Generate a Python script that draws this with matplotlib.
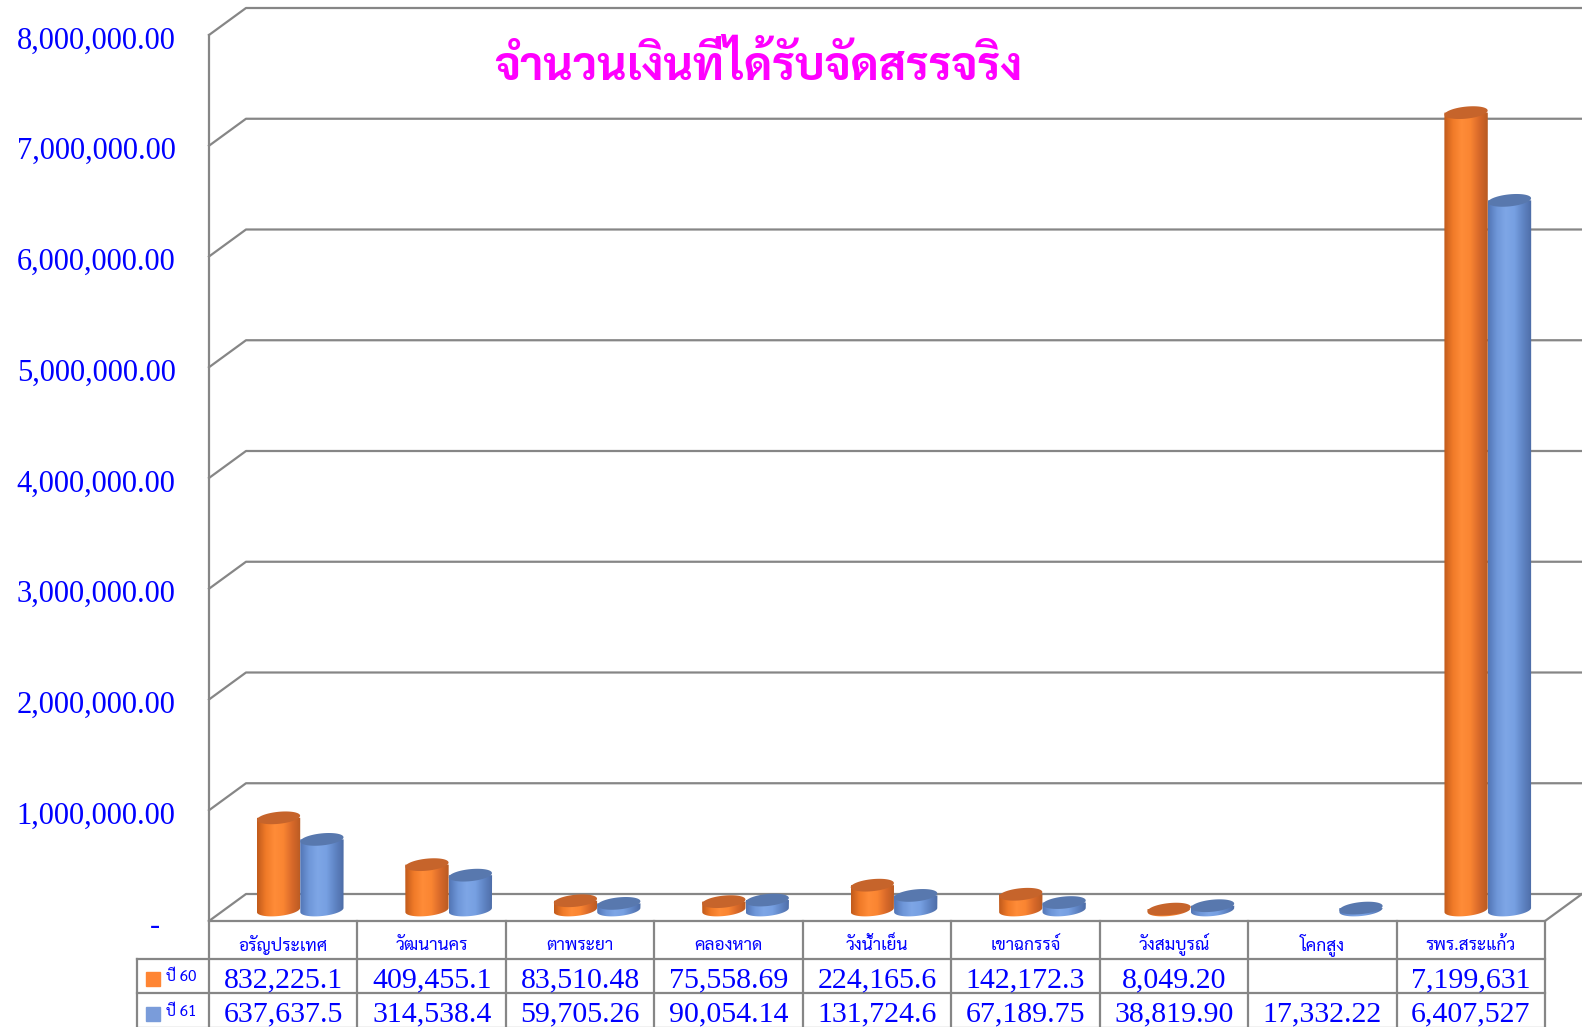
import numpy as np
import matplotlib
matplotlib.use("Agg")
import matplotlib.pyplot as plt
from matplotlib.patches import Polygon
from matplotlib.colors import LinearSegmentedColormap
from matplotlib.transforms import blended_transform_factory, ScaledTranslation

# ---- data ----
title = "จำนวนเงินที่ได้รับจัดสรรจริง"
categories = ["อรัญประเทศ", "วัฒนานคร", "ตาพระยา", "คลองหาด", "วังน้ำเย็น",
              "เขาฉกรรจ์", "วังสมบูรณ์", "โคกสูง", "รพร.สระแก้ว"]
series_names = ["ปี 60", "ปี 61"]
y60 = [832225.1, 409455.1, 83510.48, 75558.69, 224165.6, 142172.3, 8049.20, np.nan, 7199631]
y61 = [637637.5, 314538.4, 59705.26, 90054.14, 131724.6, 67189.75, 38819.90, 17332.22, 6407527]
yticks = [0, 1000000, 2000000, 3000000, 4000000, 5000000, 6000000, 7000000, 8000000]

thai = ["Sarabun", "DejaVu Sans"]

# ---- layout (pixels) ----
W, H = 1582, 1027
L, R, T, B = 209, 1545, 35, 921      # front plane of the plot
DEPTH = (37, 27)                      # back wall offset
BAR_OFF = (17, 11)                    # bars sit part way into the depth
BAR_HW = 21.7                         # half width of one cylinder
ELL_B = 6                             # ellipse half height
grey = "#868686"
blue_txt = "#0000FF"

fig = plt.figure(figsize=(W / 100, H / 100), dpi=100)
ax = fig.add_axes([L / W, 1 - B / H, (R - L) / W, (B - T) / H])
ax.set_xlim(0, len(categories))
ax.set_ylim(0, 8000000)
for s in ax.spines.values():
    s.set_visible(False)
ax.set_xticks([])

px_x = len(categories) / (R - L)
px_y = 8000000 / (B - T)
dx, dy = DEPTH[0] * px_x, DEPTH[1] * px_y

# y axis labels
def fmt(v):
    return "-  " if v == 0 else f"{v:,.2f}"
ax.set_yticks(yticks)
ax.set_yticklabels([fmt(v) for v in yticks], family="Liberation Serif",
                   fontsize=22, color=blue_txt)
ax.tick_params(axis="y", length=0, pad=24)
for lab in ax.get_yticklabels():
    lab.set_transform(lab.get_transform() + ScaledTranslation(0, -2.5 / 100, fig.dpi_scale_trans))

# walls / gridlines
for v in yticks:
    ax.plot([0, dx, len(categories) + dx + 1], [v, v + dy, v + dy],
            color=grey, lw=1.6, clip_on=False, zorder=1)
ax.plot([0, 0], [0, 8000000], color=grey, lw=1.6, clip_on=False, zorder=1)
ax.plot([0, len(categories), len(categories) + dx], [0, 0, dy],
        color=grey, lw=1.6, clip_on=False, zorder=1)

# cylinders
cm60 = LinearSegmentedColormap.from_list("o", ["#C05A1C", "#F07A28", "#FF8C38", "#FA8532", "#D8692A", "#B85A22"])
cm61 = LinearSegmentedColormap.from_list("b", ["#5275B5", "#6E96D8", "#7EA6E6", "#77A0E2", "#5F84C4", "#4D6CA6"])
tops = ["#C6642B", "#5878AE"]

def ellipse_pts(xc, yc, t):
    ang = np.deg2rad(6)
    ex = BAR_HW * np.cos(t)
    ey = ELL_B * np.sin(t)
    px = ex * np.cos(ang) - ey * np.sin(ang)
    py = ex * np.sin(ang) + ey * np.cos(ang)
    return xc + px * px_x, yc + py * px_y

def cylinder(xc, val, cmap, top_color, z):
    base = BAR_OFF[1] * px_y
    top = base + val
    t = np.linspace(np.pi, 2 * np.pi, 60)
    bx, by = ellipse_pts(xc, base, t)
    pts = [(xc - BAR_HW * px_x, top)] + list(zip(bx, by)) + [(xc + BAR_HW * px_x, top)]
    body = Polygon(pts, closed=True, facecolor="none", edgecolor="none")
    ax.add_patch(body)
    grad = np.linspace(0, 1, 256).reshape(1, -1)
    im = ax.imshow(grad, cmap=cmap, extent=(xc - BAR_HW * px_x, xc + BAR_HW * px_x,
                   base - 2 * ELL_B * px_y, top), aspect="auto",
                   interpolation="bilinear", zorder=z)
    im.set_clip_path(body)
    tx, ty = ellipse_pts(xc, top, np.linspace(0, 2 * np.pi, 80))
    ax.add_patch(Polygon(list(zip(tx, ty)), closed=True, facecolor=top_color,
                         edgecolor="none", zorder=z + 0.05))

for i in range(len(categories)):
    xc = i + 0.5 + BAR_OFF[0] * px_x
    for k, (vals, cm) in enumerate([(y60, cm60), (y61, cm61)]):
        v = vals[i]
        if np.isnan(v):
            continue
        off = (-BAR_HW if k == 0 else BAR_HW) * px_x
        cylinder(xc + off, v, cm, tops[k], 3 + i * 0.2 + k * 0.1)

ax.set_xlim(0, len(categories))
ax.set_ylim(0, 8000000)

# ---- data table under the plot ----
bt = blended_transform_factory(ax.transData, ax.transAxes)
ah = B - T
rows = [0, -38 / ah, -72 / ah, -107 / ah]
leg_x = (137 - L) * px_x
for i in range(len(categories) + 1):
    ax.plot([i, i], [rows[0], rows[3]], color=grey, lw=1.6, transform=bt, clip_on=False)
ax.plot([leg_x, leg_x], [rows[1], rows[3]], color=grey, lw=1.6, transform=bt, clip_on=False)
for r in rows[1:]:
    ax.plot([leg_x, len(categories)], [r, r], color=grey, lw=1.6, transform=bt, clip_on=False)

def cell_text(v):
    if np.isnan(v):
        return ""
    for d in (2, 1, 0):
        s = f"{v:,.{d}f}"
        if len(s) <= 9:
            return s
    return s

for i, c in enumerate(categories):
    ax.text(i + 0.5, (rows[0] + rows[1]) / 2 - 5 / ah, c, transform=bt, ha="center",
            va="center", fontsize=12.5, color=blue_txt, family=thai)
    for k, vals in enumerate([y60, y61]):
        ax.text(i + 0.5, (rows[k + 1] + rows[k + 2]) / 2 - 4 / ah, cell_text(vals[i]),
                transform=bt, ha="center", va="center", fontsize=21.5,
                color=blue_txt, family="Liberation Serif")

for k, name in enumerate(series_names):
    yc = (rows[k + 1] + rows[k + 2]) / 2
    ax.plot([(153.5 - L) * px_x], [yc - 3 / ah], marker="s", ms=10.5,
            color=["#FF8533", "#7A9CDA"][k], transform=bt, clip_on=False)
    ax.text((166 - L) * px_x, yc - 1 / ah, name, transform=bt, ha="left", va="center",
            fontsize=11, color=blue_txt, family=thai)

# title, sized to span the same width as in the original
tt = fig.text(758 / W, 1 - 67 / H, title, color="#FF00FF", fontsize=30, ha="center",
              va="center", family=thai, fontweight="bold")
fig.canvas.draw()
w = tt.get_window_extent(fig.canvas.get_renderer()).width
tt.set_fontsize(30 * 527 / w)

fig.savefig("out.png", dpi=100)
